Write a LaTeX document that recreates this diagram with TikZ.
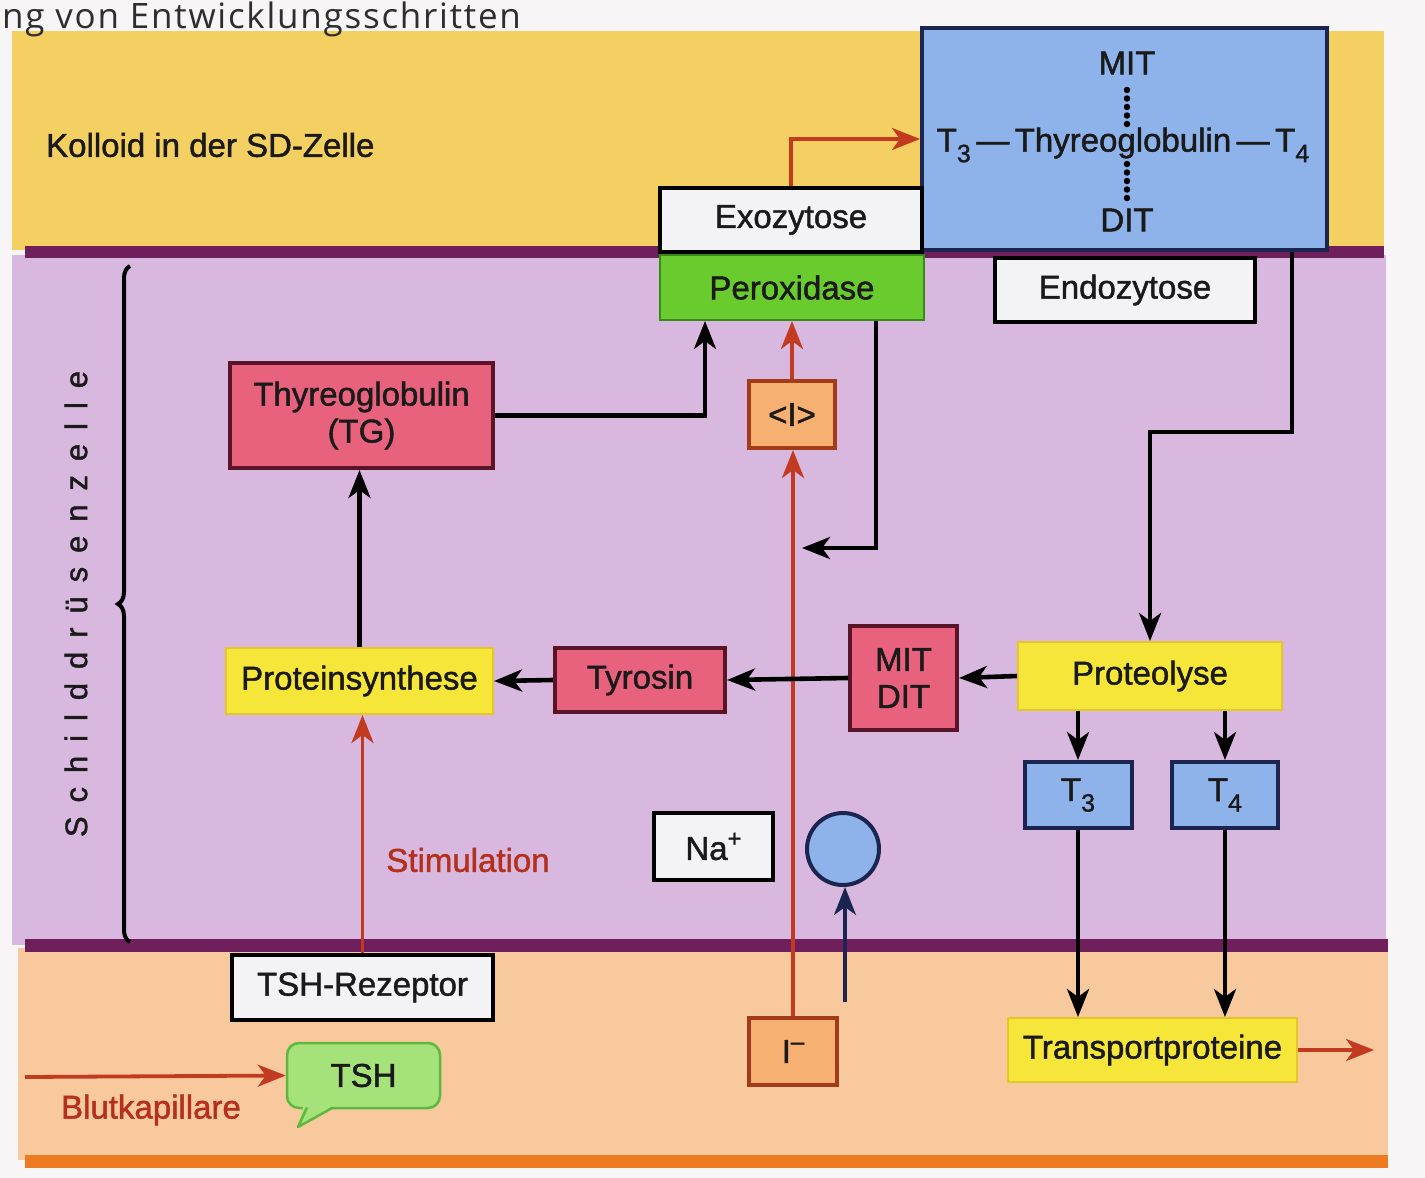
\documentclass[tikz,border=0pt]{standalone}
\usepackage{fontspec}
\setmainfont{Liberation Sans}[FakeBold=1.4]
\newfontfamily\headfont{Open Sans}
\usetikzlibrary{arrows.meta,decorations.pathreplacing,calc}
\definecolor{pagebg}{HTML}{F7F5F6}
\definecolor{colloid}{HTML}{F4CF62}
\definecolor{cellbg}{HTML}{D9B8E0}
\definecolor{bloodbg}{HTML}{F7C99C}
\definecolor{membrane}{HTML}{6E1F5C}
\definecolor{orangeline}{HTML}{EE7B22}
\definecolor{pinkfill}{HTML}{E8627E}
\definecolor{pinkdraw}{HTML}{5A1428}
\definecolor{yellowfill}{HTML}{F6E63A}
\definecolor{yellowdraw}{HTML}{E2C62A}
\definecolor{bluefill}{HTML}{8DB3EA}
\definecolor{bluedraw}{HTML}{1B2550}
\definecolor{orangefill}{HTML}{F5B072}
\definecolor{orangedraw}{HTML}{A33A1A}
\definecolor{greenfill}{HTML}{6ACB2E}
\definecolor{greendraw}{HTML}{3A8A1A}
\definecolor{tshfill}{HTML}{A6E27A}
\definecolor{tshdraw}{HTML}{5FB83E}
\definecolor{whitefill}{HTML}{F3F3F6}
\definecolor{redline}{HTML}{C23A1F}
\definecolor{redtxt}{HTML}{B3301C}
\definecolor{headgray}{HTML}{2E2E2E}
\definecolor{txt}{HTML}{1A1A1A}
\newcommand\lowidx[1]{\raisebox{-0.32em}{\fontsize{25}{25}\selectfont#1}}
\newcommand\highidx[1]{\raisebox{0.40em}{\fontsize{24}{24}\selectfont#1}}
\begin{document}
\begin{tikzpicture}[x=1pt,y=-1pt,
  bx/.style={inner sep=0pt, align=center, text=txt, font=\fontsize{33}{37}\selectfont, line width=4pt},
  whitebox/.style={bx, draw=black, fill=whitefill},
  pinkbox/.style={bx, draw=pinkdraw, fill=pinkfill},
  yellowbox/.style={bx, draw=yellowdraw, line width=2pt, fill=yellowfill},
  bluebox/.style={bx, draw=bluedraw, fill=bluefill},
  orangebox/.style={bx, draw=orangedraw, fill=orangefill},
  greenbox/.style={bx, draw=greendraw, line width=2pt, fill=greenfill},
  arr/.style={line width=4.6pt, draw=black, -{Stealth[length=28pt,width=22pt,inset=8pt]}},
  redarr/.style={line width=3.8pt, draw=redline, -{Stealth[length=28pt,width=22pt,inset=8pt]}},
  bluearr/.style={line width=3.8pt, draw=bluedraw, -{Stealth[length=28pt,width=22pt,inset=8pt]}},
  dots/.style={line width=6.5pt, line cap=round, dash pattern=on 0pt off 8.5pt, draw=black},
  lbl/.style={inner sep=0pt, font=\fontsize{33}{37}\selectfont}
]
\useasboundingbox (0,0) rectangle (1425,1178);
% backgrounds
\fill[pagebg] (0,0) rectangle (1425,1178);
\fill[colloid] (12,31) rectangle (1384,250);
\fill[cellbg] (12,255) rectangle (1386,945);
\fill[bloodbg] (18,948) rectangle (1388,1160);
\fill[membrane] (25,246) rectangle (1384,258);
\fill[membrane] (25,939) rectangle (1388,952);
\fill[orangeline] (25,1155) rectangle (1388,1168);

% texts
\node[anchor=base west, inner sep=0pt, text=headgray, font=\headfont\fontsize{35}{38}\selectfont\addfontfeature{LetterSpace=5}] (head) at (2,28) {ng von Entwicklungsschritten};
\node[lbl, anchor=west, text=txt] (kol) at (46,145) {Kolloid in der SD-Zelle};
\node[inner sep=0pt, rotate=90, text=txt, font=\fontsize{31}{32}\selectfont\addfontfeature{LetterSpace=45}] (szelle) at (76,604) {Schilddrüsenzelle};
\draw[line width=4pt, decorate, decoration={brace, amplitude=12pt}] (130,942) -- (130,266);
\node[lbl, text=redtxt] (stim) at (468,860) {Stimulation};
\node[lbl, text=redtxt] (blut) at (151,1110) {Blutkapillare};

% nodes
\node[bluebox, minimum width=405pt, minimum height=222pt] (big) at (1124.5,139) {};
\node[lbl, text=txt] (mit) at (1127,63) {MIT};
\node[lbl, text=txt] (tgline) at (1123,145) {T\lowidx{3}\,—\,Thyreoglobulin\,—\,T\lowidx{4}};
\node[lbl, text=txt] (dit) at (1127,220) {DIT};
\draw[dots] (1127,90) -- (1127,124);
\draw[dots] (1127,164) -- (1127,202);

\node[whitebox, minimum width=262pt, minimum height=64pt] (exo) at (791,220) {Exozytose};
\node[greenbox, minimum width=264pt, minimum height=65pt] (pero) at (792,287.5) {Peroxidase};
\node[whitebox, minimum width=260pt, minimum height=64pt] (endo) at (1125,290) {Endozytose};
\node[pinkbox, minimum width=263pt, minimum height=105pt] (tg) at (361.5,415.5) {Thyreoglobulin\\(TG)};
\node[orangebox, minimum width=86pt, minimum height=67pt] (iod) at (792,414.5) {<I>};
\node[yellowbox, minimum width=267pt, minimum height=66pt] (ps) at (359.5,681) {Proteinsynthese};
\node[pinkbox, minimum width=170pt, minimum height=64pt] (tyr) at (640,680) {Tyrosin};
\node[pinkbox, minimum width=107pt, minimum height=104pt] (md) at (903.5,678) {MIT\\DIT};
\node[yellowbox, minimum width=264pt, minimum height=68pt] (prot) at (1150,676) {Proteolyse};
\node[bluebox, minimum width=107pt, minimum height=66pt] (t3) at (1078,795) {T\lowidx{3}};
\node[bluebox, minimum width=106pt, minimum height=66pt] (t4) at (1225,795) {T\lowidx{4}};
\node[yellowbox, minimum width=289pt, minimum height=64pt] (trans) at (1152.5,1050) {Transportproteine};
\node[whitebox, minimum width=119pt, minimum height=67pt] (na) at (713.5,846.5) {Na\highidx{+}};
\node[circle, draw=bluedraw, line width=4pt, fill=bluefill, minimum size=72pt, inner sep=0pt] (circ) at (843,849) {};
\node[whitebox, minimum width=261pt, minimum height=65pt] (rez) at (362.5,987.5) {TSH-Rezeptor};
\node[orangebox, minimum width=88pt, minimum height=67pt] (ion) at (793,1051.5) {I\highidx{–}};
\node[bx, draw=tshdraw, fill=tshfill, line width=2.5pt, rounded corners=12pt, minimum width=153pt, minimum height=65pt] (tsh) at (363.5,1075.5) {TSH};
\fill[tshfill] (304,1104) -- (298,1127) -- (336,1104) -- cycle;
\draw[tshdraw, line width=2.5pt, line join=round] (307,1107.5) -- (298,1127) -- (333,1107.5);

% free ends
\coordinate (ret) at (802,548);
\coordinate (bstart) at (845,1002);
\coordinate (tshin) at (25,1077);
\coordinate (out) at (1374,1050);

% connectors
\draw[redarr] (exo.north) |- (big.west);
\draw[arr] (tg.east) -| ([xshift=46pt]pero.south west);
\draw[redarr] (ion.north) -- (ion.north |- iod.south);
\draw[redarr] (iod.north) -- (iod.north |- pero.south);
\draw[arr] ([xshift=84pt]pero.south) |- (ret);
\draw[arr] ([xshift=-37pt]big.south east) -- ++(0,180) -| (prot.north);
\draw[arr] (ps.north) -- (ps.north |- tg.south);
\draw[arr] (tyr.west) -- (ps.east);
\draw[arr] (md.west) -- (tyr.east);
\draw[arr] (prot.west) -- (md.east);
\draw[arr] (t3.north |- prot.south) -- (t3.north);
\draw[arr] (t4.north |- prot.south) -- (t4.north);
\draw[arr] (t3.south) -- (t3.south |- trans.north);
\draw[arr] (t4.south) -- (t4.south |- trans.north);
\draw[redarr] (trans.east) -- (out);
\draw[redarr] (rez.north) -- (rez.north |- ps.south);
\draw[bluearr] (bstart) -- (bstart |- circ.south);
\draw[redarr] (tshin) -- (tsh.west);
\end{tikzpicture}
\end{document}
